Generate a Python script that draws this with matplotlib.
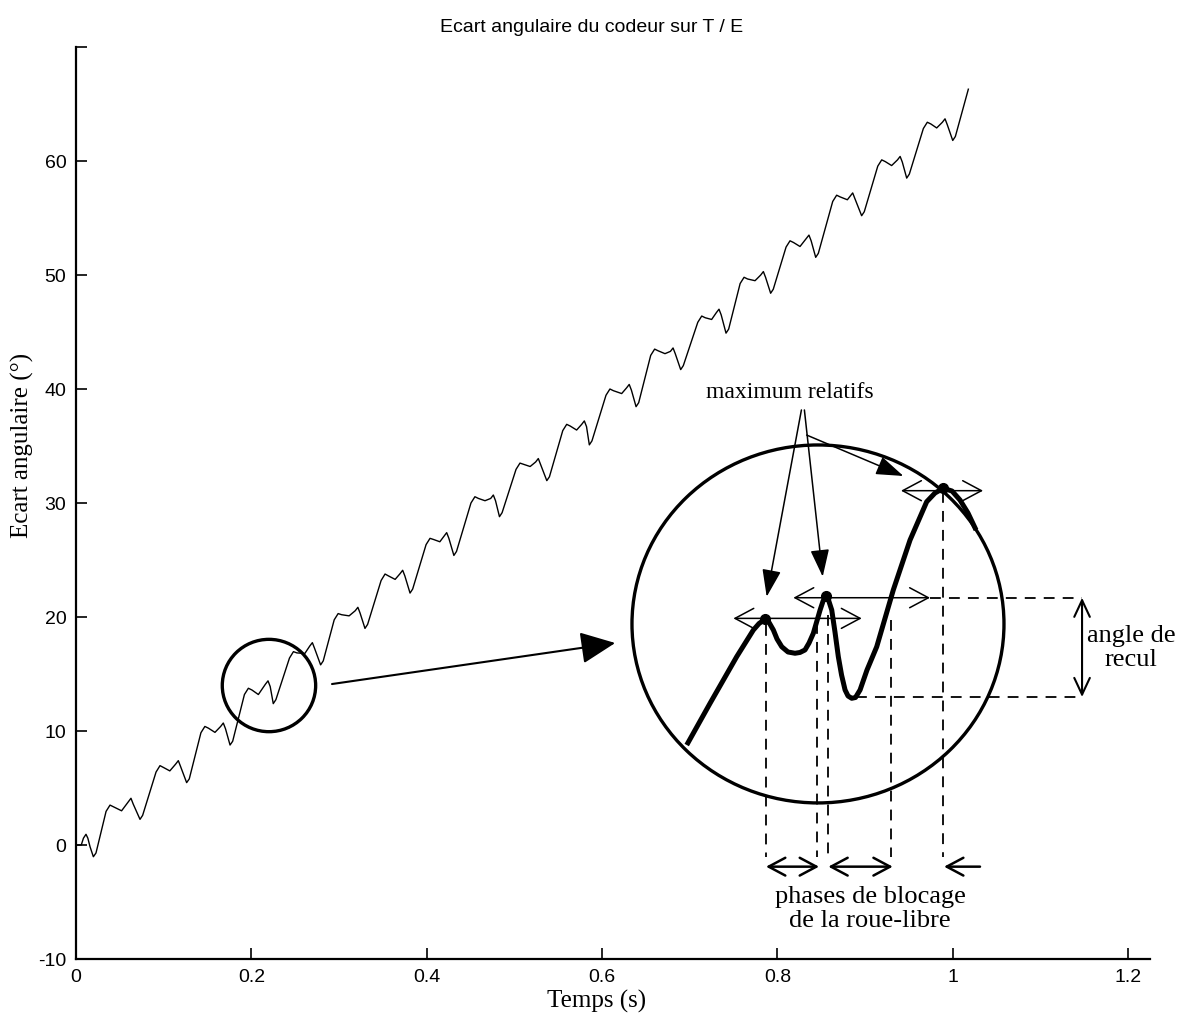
import matplotlib
matplotlib.use("Agg")
import matplotlib.pyplot as plt
from matplotlib.patches import Ellipse

# ---------------- data ----------------
t = [0, 0.006, 0.0085, 0.0114, 0.0135, 0.016, 0.0198,
     0.0228, 0.0343, 0.0388, 0.0428, 0.052, 0.0597, 0.0627, 0.0652, 0.073,
     0.076, 0.0913, 0.0958, 0.0998, 0.107, 0.1137, 0.1167, 0.1192, 0.1262,
     0.1292, 0.1425, 0.147, 0.151, 0.1585, 0.165, 0.168, 0.1705, 0.1757,
     0.1787, 0.1921, 0.1966, 0.2006, 0.208, 0.216, 0.219, 0.2215, 0.225,
     0.228, 0.2435, 0.248, 0.252, 0.261, 0.2666, 0.2696, 0.2721, 0.279,
     0.282, 0.2945, 0.299, 0.303, 0.3115, 0.3185, 0.3215, 0.324, 0.3296,
     0.3326, 0.348, 0.3525, 0.3565, 0.364, 0.3696, 0.3726, 0.3751, 0.381,
     0.384, 0.3993, 0.4038, 0.4078, 0.415, 0.4198, 0.4228, 0.4253, 0.431,
     0.434, 0.4505, 0.455, 0.459, 0.4665, 0.473, 0.476, 0.4785, 0.483,
     0.486, 0.5019, 0.5064, 0.5104, 0.518, 0.5243, 0.5273, 0.5298, 0.537,
     0.54, 0.5552, 0.5597, 0.5637, 0.571, 0.5768, 0.5798, 0.5823, 0.5855,
     0.5885, 0.6045, 0.609, 0.613, 0.6224, 0.628, 0.631, 0.6335, 0.6388,
     0.6418, 0.6555, 0.660, 0.664, 0.6718, 0.678, 0.681, 0.6835, 0.6897,
     0.6927, 0.7092, 0.7137, 0.7177, 0.725, 0.7304, 0.7334, 0.7359, 0.7414,
     0.7444, 0.7575, 0.762, 0.766, 0.7745, 0.781, 0.784, 0.7865, 0.7923,
     0.7953, 0.8099, 0.8144, 0.8184, 0.8258, 0.833, 0.836, 0.8385, 0.8437,
     0.8467, 0.8631, 0.8676, 0.8716, 0.8798, 0.8829, 0.8859, 0.8884, 0.8961,
     0.8991, 0.9145, 0.919, 0.923, 0.9303, 0.937, 0.940, 0.9425, 0.9475,
     0.9505, 0.9665, 0.971, 0.975, 0.9817, 0.9882, 0.9912, 0.9937, 1.000,
     1.003, 1.0178]
ecart = [0, 0, 0.6, 0.94, 0.6, -0.15, -1.03,
         -0.7, 2.95, 3.5, 3.35, 3.0, 3.8, 4.1, 3.6, 2.25,
         2.6, 6.4, 6.96, 6.8, 6.5, 7.1, 7.4, 6.9, 5.47,
         5.8, 9.85, 10.4, 10.25, 9.88, 10.4, 10.7, 10.2, 8.77,
         9.1, 13.2, 13.75, 13.6, 13.2, 14.1, 14.4, 13.9, 12.4,
         12.75, 16.4, 16.96, 16.85, 16.8, 17.45, 17.75, 17.25, 15.8,
         16.15, 19.75, 20.3, 20.2, 20.1, 20.55, 20.85, 20.35, 19.0,
         19.35, 23.2, 23.77, 23.6, 23.3, 23.8, 24.1, 23.6, 22.1,
         22.45, 26.35, 26.9, 26.8, 26.6, 27.1, 27.4, 26.9, 25.4,
         25.75, 30.0, 30.55, 30.4, 30.2, 30.4, 30.7, 30.2, 28.8,
         29.15, 32.95, 33.5, 33.4, 33.2, 33.6, 33.9, 33.4, 31.96,
         32.3, 36.35, 36.9, 36.75, 36.4, 36.9, 37.2, 36.7, 35.1,
         35.45, 39.45, 40.0, 39.85, 39.6, 40.1, 40.4, 39.9, 38.45,
         38.8, 42.95, 43.5, 43.35, 43.1, 43.3, 43.6, 43.1, 41.7,
         42.05, 45.85, 46.4, 46.25, 46.1, 46.7, 47.0, 46.5, 44.9,
         45.25, 49.25, 49.8, 49.65, 49.5, 50.0, 50.3, 49.8, 48.4,
         48.75, 52.45, 53.0, 52.85, 52.5, 53.2, 53.5, 53.0, 51.55,
         51.9, 56.45, 57.0, 56.85, 56.6, 56.9, 57.2, 56.7, 55.2,
         55.55, 59.55, 60.1, 59.95, 59.6, 60.1, 60.4, 59.9, 58.5,
         58.85, 62.85, 63.4, 63.25, 62.9, 63.4, 63.7, 63.2, 61.8,
         62.15, 66.3]

# schematic zoomed curve drawn inside the big circle
zoom_t = [0.6966, 0.7232, 0.7536, 0.7726, 0.7791, 0.7859, 0.7905, 0.7954, 0.7996,
          0.8050, 0.8121, 0.8201, 0.8258, 0.8315, 0.8361, 0.8410, 0.8487, 0.8521,
          0.8555, 0.8583, 0.8620, 0.8657, 0.8695, 0.8732, 0.8772, 0.8806, 0.8848,
          0.8891, 0.8943, 0.9022, 0.9133, 0.9322, 0.9513, 0.9703, 0.9798, 0.9893,
          0.9992, 1.0083, 1.0174, 1.0266]
zoom_y = [8.77, 12.43, 16.52, 18.86, 19.43, 19.80, 19.52, 18.86, 18.07,
          17.39, 16.93, 16.82, 16.89, 17.11, 17.72, 18.57, 20.61, 21.40,
          21.84, 21.49, 20.61, 18.68, 16.52, 14.91, 13.60, 13.07, 12.87,
          12.94, 13.60, 15.35, 17.39, 22.37, 26.75, 30.11, 30.88, 31.29,
          31.05, 30.26, 29.12, 27.63]
max_t = [0.7859, 0.8555, 0.9893]
max_y = [19.80, 21.84, 31.29]

xticks = [0, 0.2, 0.4, 0.6, 0.8, 1.0, 1.2]
xticklabels = ["0", "0.2", "0.4", "0.6", "0.8", "1", "1.2"]
yticks = [-10, 0, 10, 20, 30, 40, 50, 60, 70]
yticklabels = ["-10", "0", "10", "20", "30", "40", "50", "60", ""]

title = "Ecart angulaire du codeur sur T / E"
xlabel = "Temps (s)"
ylabel = "Ecart angulaire (°)"

# ---------------- figure ----------------
W, H = 1178, 1023
fig = plt.figure(figsize=(W / 100, H / 100), dpi=100)
ax = fig.add_axes([76 / W, 1 - 959 / H, (1150 - 76) / W, (959 - 47) / H])

serif = "Liberation Serif"
sans = "Liberation Sans"

ax.plot(t, ecart, color="black", lw=1.0)

ax.set_xlim(0, 1.225)
ax.set_ylim(-10, 70)
ax.set_xticks(xticks)
ax.set_xticklabels(xticklabels, fontfamily=sans, fontsize=14)
ax.set_yticks(yticks)
ax.set_yticklabels(yticklabels, fontfamily=sans, fontsize=14)
ax.tick_params(direction="in", length=8, width=1.2, pad=7)
for s in ["top", "right"]:
    ax.spines[s].set_visible(False)
for s in ["left", "bottom"]:
    ax.spines[s].set_linewidth(1.6)

fig.text(592 / W, 1 - 28 / H, title, fontfamily=sans, fontsize=14,
         ha="center", va="center")
fig.text(597 / W, 1 - 1001 / H, xlabel, fontfamily=serif, fontsize=18,
         ha="center", va="center")
fig.text(22 / W, 1 - 445 / H, ylabel, fontfamily=serif, fontsize=18,
         ha="center", va="center", rotation=90)

# ---------------- annotations ----------------
ax.add_patch(Ellipse((0.2201, 13.99), 0.1065, 8.1, fill=False, lw=2.4, color="black"))
ax.add_patch(Ellipse((0.8463, 19.39), 0.4243, 31.4, fill=False, lw=2.4, color="black"))
ax.annotate("", xy=(0.615, 17.72), xytext=(0.292, 14.12),
            arrowprops=dict(arrowstyle="-|>,head_length=1.2,head_width=0.55",
                            mutation_scale=18, lw=1.5, color="black",
                            shrinkA=0, shrinkB=0))

ax.plot(zoom_t, zoom_y, color="black", lw=3.6, solid_capstyle="butt",
        solid_joinstyle="round")
ax.plot(max_t, max_y, "o", color="black", ms=7)

ax.text(0.8144, 39.65, "maximum relatifs", fontfamily=serif, fontsize=17,
        ha="center", va="center")
for (x0, y0, x1, y1) in [(0.8274, 38.16, 0.7878, 21.78),
                         (0.8308, 38.16, 0.8517, 23.54),
                         (0.8334, 35.96, 0.9437, 32.37)]:
    ax.annotate("", xy=(x1, y1), xytext=(x0, y0),
                arrowprops=dict(arrowstyle="-|>,head_length=1.3,head_width=0.45",
                                mutation_scale=13, lw=1.1, color="black",
                                shrinkA=0, shrinkB=0))

chev = dict(arrowstyle="<->,head_length=0.75,head_width=0.4", mutation_scale=18,
            lw=1.1, color="black", shrinkA=0, shrinkB=0)
for (x0, x1, y0) in [(0.7498, 0.8962, 19.88), (0.8182, 0.9741, 21.69),
                     (0.9410, 1.0346, 31.08)]:
    ax.annotate("", xy=(x0, y0), xytext=(x1, y0), arrowprops=chev)

dash = dict(color="black", lw=1.3, ls=(0, (6, 4.5)))
ax.plot([0.9741, 1.1475], [21.69, 21.69], **dash)
ax.plot([0.8897, 1.1475], [12.98, 12.98], **dash)
for (xv, ytop) in [(0.7870, 19.3), (0.8452, 19.47), (0.8581, 20.18),
                   (0.9296, 19.74), (0.9893, 30.96)]:
    ax.plot([xv, xv], [ytop, -1.05], **dash)

ax.annotate("", xy=(1.1475, 21.69), xytext=(1.1475, 12.98),
            arrowprops=dict(arrowstyle="<->,head_length=0.75,head_width=0.35",
                            mutation_scale=16, lw=1.5, color="black",
                            shrinkA=0, shrinkB=0))
ax.text(1.2035, 17.3, "angle de\nrecul", fontfamily=serif, fontsize=19,
        ha="center", va="center", linespacing=1.15)

chev2 = dict(arrowstyle="<->,head_length=0.75,head_width=0.4", mutation_scale=16,
             lw=1.8, color="black", shrinkA=0, shrinkB=0)
ax.annotate("", xy=(0.7870, -1.90), xytext=(0.8475, -1.90), arrowprops=chev2)
ax.annotate("", xy=(0.8581, -1.90), xytext=(0.9316, -1.90), arrowprops=chev2)
ax.annotate("", xy=(0.9901, -1.90), xytext=(1.0311, -1.90),
            arrowprops=dict(arrowstyle="->,head_length=0.75,head_width=0.4",
                            mutation_scale=16, lw=1.8, color="black",
                            shrinkA=0, shrinkB=0))
ax.text(0.9057, -5.6, "phases de blocage\nde la roue-libre", fontfamily=serif,
        fontsize=19, ha="center", va="center", linespacing=1.15)

fig.savefig("out.png", dpi=100)
